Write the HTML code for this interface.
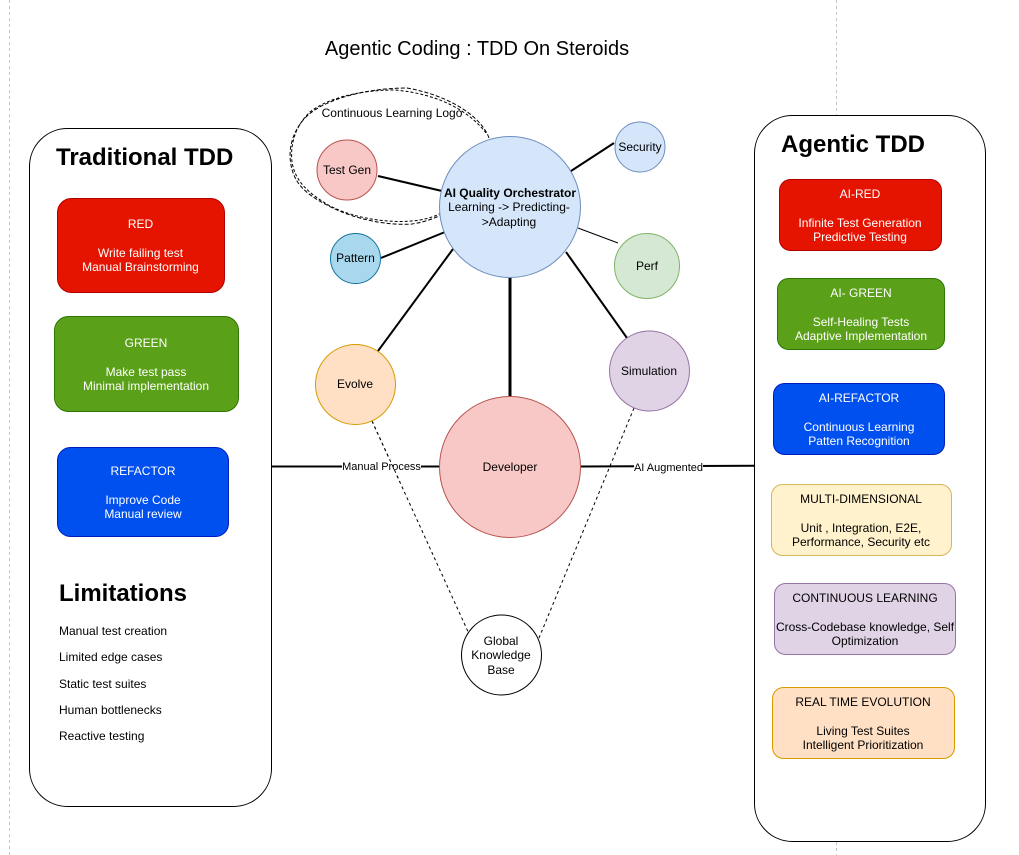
<!DOCTYPE html>
<html><head><meta charset="utf-8"><style>
html,body{margin:0;padding:0;background:#fff;width:1019px;height:855px;overflow:hidden}
svg{display:block}
text{font-family:"Liberation Sans",Arial,sans-serif;font-size:12px;text-anchor:middle;fill:#000}
.w text,text.w{fill:#fff}
.l{text-anchor:start}
.h{font-weight:bold;font-size:24px;text-anchor:start}
</style></head><body>
<svg width="1019" height="855" viewBox="0 0 1019 855" xmlns="http://www.w3.org/2000/svg">
<line x1="9.5" y1="0" x2="9.5" y2="855" stroke="#c4c4c4" stroke-dasharray="3 3"/>
<line x1="836.5" y1="0" x2="836.5" y2="115" stroke="#c4c4c4" stroke-dasharray="3 3"/>
<line x1="836.5" y1="842" x2="836.5" y2="855" stroke="#c4c4c4" stroke-dasharray="3 3"/>
<text x="477" y="55" style="font-size:20px">Agentic Coding : TDD On Steroids</text>

<rect x="29.5" y="128.5" width="242" height="678" rx="38" fill="#fff" stroke="#000" stroke-width="1"/>
<rect x="754.5" y="115.5" width="231" height="726" rx="38" fill="#fff" stroke="#000" stroke-width="1"/>
<text class="h" x="56" y="165">Traditional TDD</text>
<text class="h" x="781" y="152">Agentic TDD</text>

<g fill="none" stroke="#000">
<line x1="272" y1="466.5" x2="440" y2="466.5" stroke-width="2"/>
<line x1="581" y1="466.5" x2="754" y2="465.8" stroke-width="2"/>
<line x1="510" y1="278" x2="510" y2="397" stroke-width="3"/>
<line x1="378" y1="176" x2="442" y2="191" stroke-width="2"/>
<line x1="381" y1="258" x2="445" y2="232" stroke-width="2"/>
<line x1="378" y1="351" x2="453" y2="249" stroke-width="2"/>
<line x1="571" y1="171" x2="614" y2="143" stroke-width="2"/>
<line x1="578" y1="228" x2="618" y2="243" stroke-width="1"/>
<line x1="566" y1="252" x2="627" y2="338" stroke-width="2"/>
<line x1="372" y1="421" x2="470" y2="636" stroke-width="1" stroke-dasharray="3 3"/>
<line x1="634" y1="408" x2="539" y2="638" stroke-width="1" stroke-dasharray="3 3"/>
<path d="M489 138C482 118 452 96 407 88C365 88 322 100 305 118C292 132 288 150 291 165C294 182 304 193 325 204C350 218 385 226 412 224C425 222 435 218 441 215" stroke-width="1" stroke-dasharray="4 2"/>
<path d="M486 133C470 112 440 94 395 90C355 90 325 100 310 112C295 126 290 145 292 162C295 180 306 192 330 206C358 220 395 224 420 220C430 218 436 216 441 213" stroke-width="1" stroke-dasharray="3 2"/>
</g>

<rect x="342" y="459" width="79" height="15" fill="#fff"/>
<text x="381.500" y="470" style="font-size:11px">Manual Process</text>
<rect x="634" y="459" width="69" height="15" fill="#fff"/>
<text x="668.500" y="471" style="font-size:11px">AI Augmented</text>
<line x1="372" y1="421" x2="400" y2="482" stroke="#000" stroke-dasharray="3 3"/>

<g stroke-width="1">
<circle cx="510" cy="207" r="70.500" fill="#d5e5fa" stroke="#6c8ebf"/>
<circle cx="510" cy="467" r="70.500" fill="#f7c8c6" stroke="#b85450"/>
<circle cx="347" cy="170" r="30" fill="#f7c8c6" stroke="#b85450"/>
<circle cx="355.500" cy="258.500" r="25" fill="#a9d8ee" stroke="#10739e"/>
<circle cx="640" cy="147" r="25" fill="#d5e5fa" stroke="#6c8ebf"/>
<circle cx="647" cy="266" r="32.500" fill="#d5e8d4" stroke="#82b366"/>
<circle cx="355.500" cy="384.500" r="40" fill="#ffe0c4" stroke="#d79b00"/>
<circle cx="649.500" cy="371" r="40" fill="#e0d3e6" stroke="#9673a6"/>
<circle cx="501.500" cy="655" r="40" fill="#fff" stroke="#000"/>
</g>

<text x="392" y="117" style="font-size:12px">Continuous Learning Logo</text>
<text x="347" y="174">Test Gen</text>
<text x="355.500" y="262">Pattern</text>
<text x="640" y="151">Security</text>
<text x="647" y="270">Perf</text>
<text x="355" y="388">Evolve</text>
<text x="649" y="375">Simulation</text>
<text x="510" y="471">Developer</text>
<text x="510" y="197" font-weight="bold">AI Quality Orchestrator</text>
<text x="509" y="211">Learning -&gt; Predicting-</text>
<text x="509" y="226">&gt;Adapting</text>
<text x="501" y="645">Global</text>
<text x="501" y="659">Knowledge</text>
<text x="501" y="674">Base</text>

<g stroke-width="1">
<rect x="57.500" y="198.500" width="167" height="94" rx="14" fill="#e51400" stroke="#b20000"/>
<rect x="54.500" y="316.500" width="184" height="95" rx="14" fill="#5aa018" stroke="#2d7600"/>
<rect x="57.500" y="447.500" width="171" height="89" rx="13" fill="#0050ef" stroke="#001dbc"/>
<rect x="779.500" y="179.500" width="162" height="71" rx="11" fill="#e51400" stroke="#b20000"/>
<rect x="777.500" y="278.500" width="167" height="71" rx="11" fill="#5aa018" stroke="#2d7600"/>
<rect x="773.500" y="383.500" width="171" height="71" rx="11" fill="#0050ef" stroke="#001dbc"/>
<rect x="771.500" y="484.500" width="180" height="71" rx="11" fill="#fff2cc" stroke="#d6b656"/>
<rect x="774.500" y="583.500" width="181" height="71" rx="11" fill="#e0d3e6" stroke="#9673a6"/>
<rect x="772.500" y="687.500" width="182" height="71" rx="11" fill="#ffe0c4" stroke="#d79b00"/>
</g>

<g class="w">
<text x="140.500" y="228">RED</text><text x="140.500" y="257">Write failing test</text><text x="140.500" y="271">Manual Brainstorming</text>
<text x="146" y="347">GREEN</text><text x="146" y="376">Make test pass</text><text x="146" y="390">Minimal implementation</text>
<text x="143" y="475">REFACTOR</text><text x="143" y="504">Improve Code</text><text x="143" y="518">Manual review</text>
<text x="860" y="198">AI-RED</text><text x="860" y="227">Infinite Test Generation</text><text x="860" y="241">Predictive Testing</text>
<text x="861" y="297">AI- GREEN</text><text x="861" y="326">Self-Healing Tests</text><text x="861" y="340">Adaptive Implementation</text>
<text x="859" y="402">AI-REFACTOR</text><text x="859" y="431">Continuous Learning</text><text x="859" y="445">Patten Recognition</text>
</g>
<text x="861" y="503">MULTI-DIMENSIONAL</text><text x="861" y="532">Unit , Integration, E2E,</text><text x="861" y="546">Performance, Security etc</text>
<text x="865" y="602">CONTINUOUS LEARNING</text><text x="865" y="631">Cross-Codebase knowledge, Self</text><text x="865" y="645">Optimization</text>
<text x="863" y="706">REAL TIME EVOLUTION</text><text x="863" y="735">Living Test Suites</text><text x="863" y="749">Intelligent Prioritization</text>

<text class="h" x="59" y="601">Limitations</text>
<text class="l" x="59" y="635">Manual test creation</text>
<text class="l" x="59" y="661">Limited edge cases</text>
<text class="l" x="59" y="688">Static test suites</text>
<text class="l" x="59" y="714">Human bottlenecks</text>
<text class="l" x="59" y="740">Reactive testing</text>
</svg>
</body></html>
